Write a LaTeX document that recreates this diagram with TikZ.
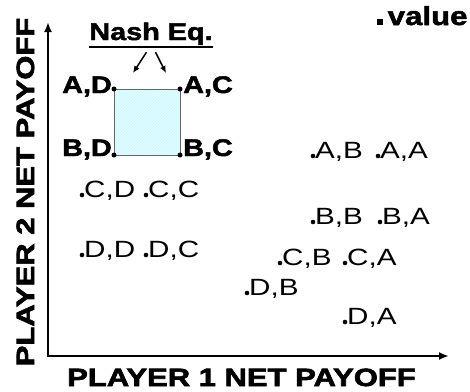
\documentclass[tikz,border=0pt]{standalone}
\usepackage{fontspec}
\setmainfont{Liberation Sans}
\newfontfamily\plainfont[FakeStretch=1.26]{Liberation Sans}
\newfontfamily\heavyfont[FakeStretch=1.2, BoldFeatures={FakeBold=2}]{Liberation Sans}
\newfontfamily\axisfont[FakeStretch=1.24, BoldFeatures={FakeBold=2.5}]{Liberation Sans}
\usetikzlibrary{arrows.meta, patterns, positioning}

\begin{document}
\begin{tikzpicture}[x=1pt, y=-1pt, every node/.style={inner sep=0pt},
  pt/.style={circle, fill=black, minimum size=4.6pt},
  corner/.style={circle, fill=black, minimum size=5pt},
  lbl/.style={font=\plainfont\fontsize{23.5}{23.5}\selectfont, anchor=base west},
  boldlbl/.style={font=\heavyfont\bfseries\fontsize{24}{24}\selectfont},
  axislbl/.style={font=\axisfont\bfseries\fontsize{25}{25}\selectfont, anchor=base}]
  \useasboundingbox (0,0) rectangle (470,391);

  % Axes
  \coordinate (ytop) at (48,22);
  \coordinate (origin) at (48,356);
  \coordinate (xend) at (449,356);
  \draw[{Latex[length=10pt,width=8pt]}-{Latex[length=10pt,width=8pt]}, line width=2pt] (ytop) -- (origin) -- (xend);
  \node[axislbl] (xlabel) at (241.5,386) {PLAYER 1 NET PAYOFF};
  \node[axislbl, rotate=90] (ylabel) at (34,192) {PLAYER 2 NET PAYOFF};

  % Nash equilibrium box
  \draw[gray!80!black, preaction={fill=cyan!7}, pattern=north east lines, pattern color=cyan!30] (114,89) rectangle (180,155);
  \node[corner] (ad) at (114,89) {};
  \node[corner] (ac) at (180,89) {};
  \node[corner] (bd) at (114,155) {};
  \node[corner] (bc) at (180,155) {};
  \node[boldlbl, anchor=base east] (ad-t) at ([xshift=-2pt, yshift=-4pt]ad.center) {A,D};
  \node[boldlbl, anchor=base west] (ac-t) at ([xshift=3pt, yshift=-4pt]ac.center) {A,C};
  \node[boldlbl, anchor=base east] (bd-t) at ([xshift=-2pt, yshift=-1pt]bd.center) {B,D};
  \node[boldlbl, anchor=base west] (bc-t) at ([xshift=3pt, yshift=-1pt]bc.center) {B,C};

  % Nash Eq. label with arrows
  \node[boldlbl, anchor=base] (nash) at (151,40) {Nash Eq.};
  \draw[line width=2.5pt] ([yshift=-2pt]nash.south west) -- ([yshift=-2pt]nash.south east);
  \coordinate (nash-l) at (133,73);
  \coordinate (nash-r) at (166,73);
  \draw[-{Latex[length=7pt,width=6pt]}, line width=1.5pt] ([xshift=-4.5pt, yshift=-7pt]nash.south) -- (nash-l);
  \draw[-{Latex[length=7pt,width=6pt]}, line width=1.5pt] ([xshift=4.5pt, yshift=-7pt]nash.south) -- (nash-r);

  % Legend
  \node[fill=black, minimum size=6pt] (key) at (379.5,21.5) {};
  \node[font=\heavyfont\bfseries\fontsize{26}{26}\selectfont, anchor=base west] (key-t) at ([xshift=8pt, yshift=-3.5pt]key.center) {value};

  % Other outcomes
  \node[pt] (ab) at (313,156) {};
  \node[lbl] (ab-t) at ([xshift=2pt, yshift=-2.5pt]ab.center) {A,B};
  \node[pt] (aa) at (378,156) {};
  \node[lbl] (aa-t) at ([xshift=2pt, yshift=-2.5pt]aa.center) {A,A};
  \node[pt] (cd) at (82,195) {};
  \node[lbl] (cd-t) at ([xshift=2pt, yshift=-2.5pt]cd.center) {C,D};
  \node[pt] (cc) at (146,195) {};
  \node[lbl] (cc-t) at ([xshift=2pt, yshift=-2.5pt]cc.center) {C,C};
  \node[pt] (bb) at (313,222) {};
  \node[lbl] (bb-t) at ([xshift=2pt, yshift=-2.5pt]bb.center) {B,B};
  \node[pt] (ba) at (380,222) {};
  \node[lbl] (ba-t) at ([xshift=2pt, yshift=-2.5pt]ba.center) {B,A};
  \node[pt] (dd) at (82,255) {};
  \node[lbl] (dd-t) at ([xshift=2pt, yshift=-2.5pt]dd.center) {D,D};
  \node[pt] (dc) at (146,255) {};
  \node[lbl] (dc-t) at ([xshift=2pt, yshift=-2.5pt]dc.center) {D,C};
  \node[pt] (cb) at (280,263) {};
  \node[lbl] (cb-t) at ([xshift=2pt, yshift=-2.5pt]cb.center) {C,B};
  \node[pt] (ca) at (345,263) {};
  \node[lbl] (ca-t) at ([xshift=2pt, yshift=-2.5pt]ca.center) {C,A};
  \node[pt] (db) at (247,293) {};
  \node[lbl] (db-t) at ([xshift=2pt, yshift=-2.5pt]db.center) {D,B};
  \node[pt] (da) at (345,322) {};
  \node[lbl] (da-t) at ([xshift=2pt, yshift=-2.5pt]da.center) {D,A};
\end{tikzpicture}
\end{document}
